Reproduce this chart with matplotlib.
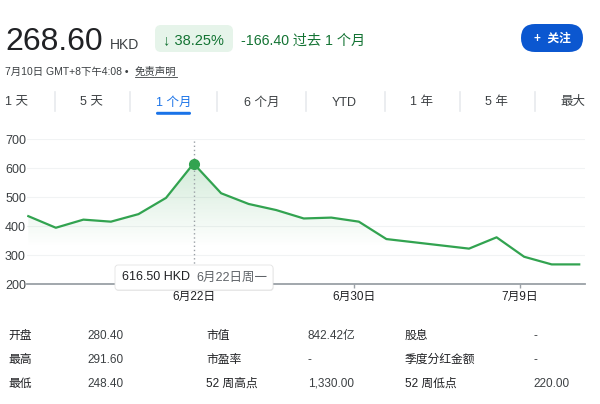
import numpy as np
import matplotlib
matplotlib.use('Agg')
import matplotlib.pyplot as plt
from matplotlib.patches import FancyBboxPatch, Polygon

plt.rcParams['font.family'] = ['Liberation Sans', 'Noto Sans CJK SC', 'DejaVu Sans']

# price data (trading-day index, close)
day_idx = [0, 1, 2, 3, 4, 5, 6, 7, 8, 9, 10, 11, 12, 13, 16, 17, 18, 19, 20]
prices = [435, 395, 423, 416, 442, 498, 616.5, 514, 477, 456, 427, 430, 416,
          356, 323, 362, 295, 268.6, 268.6]
yticks = [200, 300, 400, 500, 600, 700]
xtick_pos = [6, 11.82, 17.85]
xtick_labels = ['6月22日', '6月30日', '7月9日']
hover_idx = 6

tabs = ['1 天', '5 天', '1 个月', '6 个月', 'YTD', '1 年', '5 年', '最大']
tab_x = [5, 80, 156, 244, 332, 410, 485, 560]
tab_sep = [55, 130, 217, 306, 385, 460, 535]
active_tab = 2

row_labels1 = ['开盘', '最高', '最低']
row_values1 = ['280.40', '291.60', '248.40']
row_labels2 = ['市值', '市盈率', '52 周高点']
row_values2 = ['842.42亿', '-', '1,330.00']
row_labels3 = ['股息', '季度分红金额', '52 周低点']
row_values3 = ['-', '-', '220.00']

green = '#32a350'
dark = '#202124'
gray = '#3c4043'
W, H = 600, 404

fig = plt.figure(figsize=(6, 4.04), dpi=100)
bg = fig.add_axes([0, 0, 1, 1])
bg.set_xlim(0, W)
bg.set_ylim(H, 0)
bg.axis('off')

# header
bg.text(5, 50, '268.60', fontsize=23, color=dark, va='baseline')
bg.text(110, 49, 'HKD', fontsize=10, color=gray, va='baseline')
bg.add_patch(FancyBboxPatch((155, 25), 78, 27, boxstyle='round,pad=0,rounding_size=6',
                            fc='#e6f4ea', ec='none'))
bg.text(163, 44.5, '↓ 38.25%', fontsize=10.5, color='#137333', va='baseline')
bg.text(241, 44.5, '-166.40 过去 1 个月', fontsize=10.2, color='#137333', va='baseline')
bg.add_patch(FancyBboxPatch((521, 24), 62, 28, boxstyle='round,pad=0,rounding_size=14',
                            fc='#0b57d0', ec='none'))
bg.text(552, 38.5, '+  关注', fontsize=8.5, color='white', ha='center', va='center',
        fontweight='bold')
bg.text(5, 75, '7月10日 GMT+8下午4:08 • ', fontsize=7.5, color=gray, va='baseline')
bg.text(135, 75, '免责声明', fontsize=7.5, color=gray, va='baseline')
bg.plot([135, 177], [76.5, 76.5], color=gray, lw=0.6)

# tabs
for i, t in enumerate(tabs):
    c = '#1a73e8' if i == active_tab else gray
    bg.text(tab_x[i], 102.5, t, fontsize=9, color=c, va='center')
for s in tab_sep:
    bg.plot([s, s], [92, 111], color='#e8eaed', lw=1.2)
bg.add_patch(FancyBboxPatch((156, 111.8), 35, 3, boxstyle='round,pad=0,rounding_size=1.5',
                            fc='#1a73e8', ec='none'))

# table
rows_y = [336, 360, 384]
cols = [(8, row_labels1, dark), (87, row_values1, gray), (206, row_labels2, dark),
        (308, row_values2, gray), (405, row_labels3, dark), (533, row_values3, gray)]
for cx, items, col in cols:
    for ry, txt in zip(rows_y, items):
        bg.text(cx, ry, txt, fontsize=8.5, color=col, va='center')

# chart
ax = fig.add_axes([27 / W, 1 - 284.3 / H, 558 / W, 145 / H])
ax.patch.set_alpha(0)
ax.set_xlim(-0.047, 20.21)
ax.set_ylim(200, 700)
for yv in yticks[1:]:
    ax.axhline(yv, color='#f1f3f4', lw=0.8, zorder=0)
for sp in ['top', 'right', 'left']:
    ax.spines[sp].set_visible(False)
ax.spines['bottom'].set_color('#9aa0a6')
ax.spines['bottom'].set_linewidth(1.3)

# gradient fill under the line
grad = np.zeros((200, 2, 4))
rgb = matplotlib.colors.to_rgb(green)
grad[:, :, 0], grad[:, :, 1], grad[:, :, 2] = rgb
alpha = np.clip((np.linspace(700, 200, 200) - 330) / 290, 0, 1) * 0.22
grad[:, :, 3] = alpha[:, None]
im = ax.imshow(grad, extent=[-0.047, 20.21, 200, 700], aspect='auto', zorder=1,
               interpolation='bilinear')
poly = Polygon(list(zip(day_idx, prices)) + [(day_idx[-1], 200), (day_idx[0], 200)],
               closed=True, transform=ax.transData, fc='none', ec='none')
ax.add_patch(poly)
im.set_clip_path(poly)

ax.axvline(day_idx[hover_idx], ymin=0, ymax=1, color='#9aa0a6', lw=1,
           ls=(0, (1, 2)), zorder=2)
ax.plot(day_idx, prices, color=green, lw=1.6, zorder=3, solid_joinstyle='round')
ax.plot(day_idx[hover_idx], prices[hover_idx], 'o', color=green, ms=7, zorder=4)

ax.set_yticks(yticks)
ax.set_yticklabels([str(v) for v in yticks])
for lab in ax.get_yticklabels():
    lab.set_horizontalalignment('left')
ax.tick_params(axis='y', length=0, pad=15.8, labelsize=9, labelcolor=gray)
ax.set_xticks(xtick_pos)
ax.set_xticklabels(xtick_labels)
ax.tick_params(axis='x', length=3, width=1, color='#9aa0a6', pad=2, labelsize=8.5,
               labelcolor=dark)

# tooltip
top = fig.add_axes([0, 0, 1, 1], zorder=5)
top.set_xlim(0, W)
top.set_ylim(H, 0)
top.axis('off')
top.add_patch(FancyBboxPatch((115.5, 266), 158, 25, boxstyle='round,pad=0,rounding_size=3',
                             fc='#000000', alpha=0.08, ec='none'))
top.add_patch(FancyBboxPatch((115, 265), 158, 25, boxstyle='round,pad=0,rounding_size=3',
                             fc='white', ec='#e3e3e3', lw=0.6))
top.text(122, 277.5, '%.2f HKD' % prices[hover_idx], fontsize=9, color=dark, va='center')
top.text(196, 277.5, '6月22日周一', fontsize=9, color='#5f6368', va='center')

fig.savefig('out.png', dpi=100)
